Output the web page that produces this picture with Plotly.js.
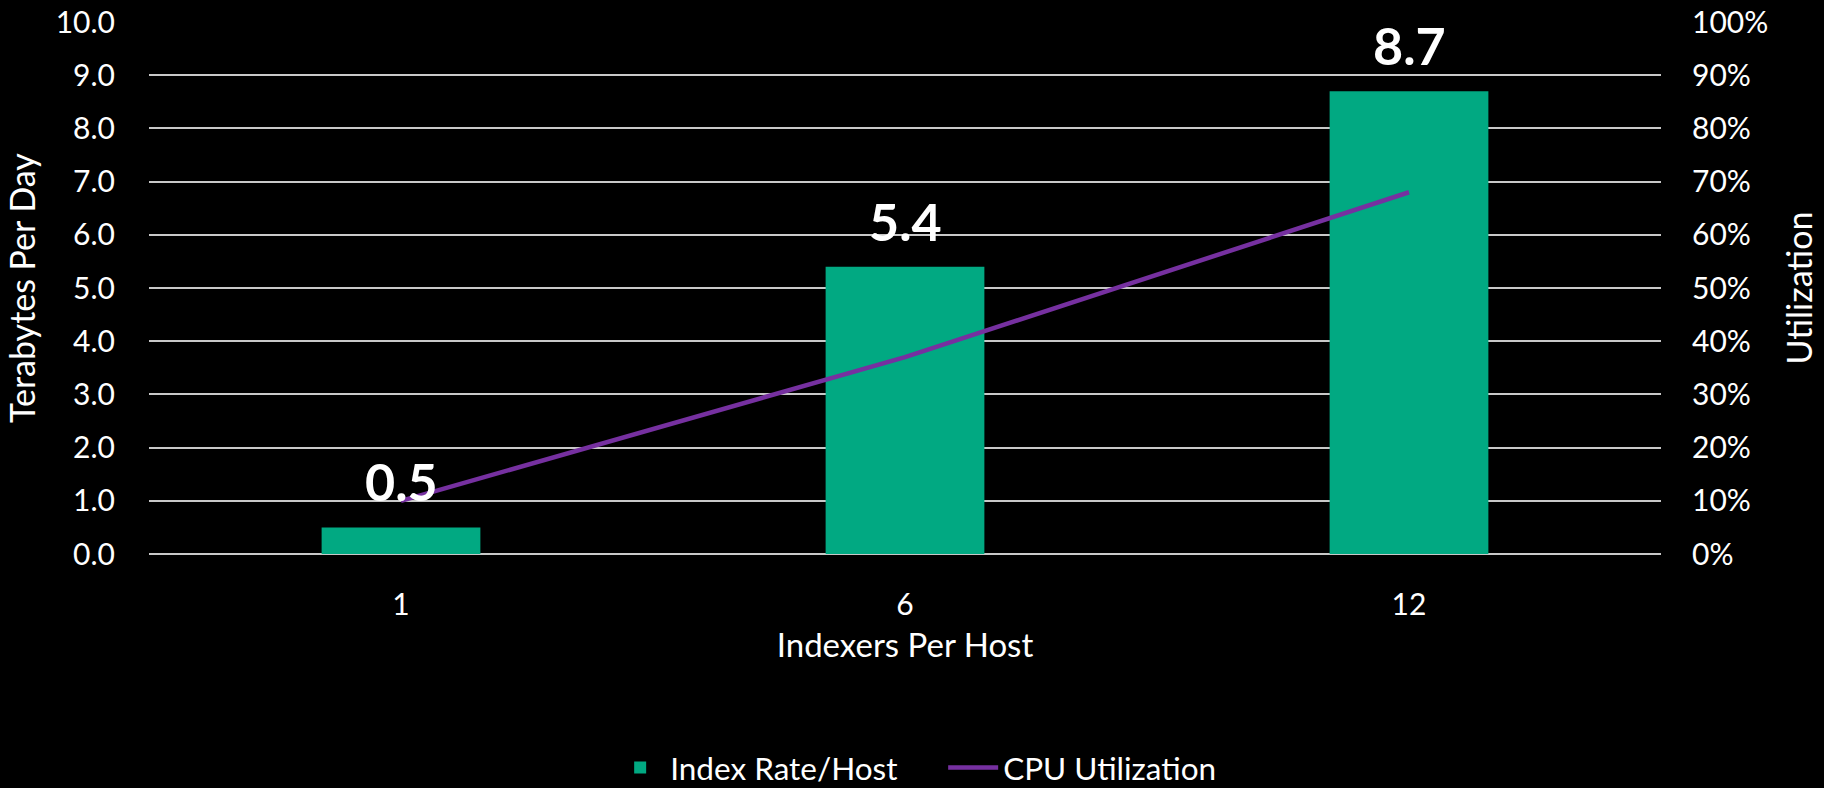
<!DOCTYPE html>
<html>
<head>
<meta charset="utf-8">
<script src="https://cdn.plot.ly/plotly-3.0.1.min.js"></script>
<style>
html,body{margin:0;padding:0;background:#000;}
#chart{width:1824px;height:788px;}
</style>
</head>
<body>
<div id="chart"></div>
<script>
const categories = ['1', '6', '12'];
const indexRate = [0.5, 5.4, 8.7];
const cpuUtil = [0.10, 0.37, 0.68];
const barLabels = ['0.5', '5.4', '8.7'];

const FONT = 'Lato, "Open Sans", sans-serif';
const GREEN = '#01a982';
const PURPLE = '#7630a0';
const GRID = '#c8c8c8';

const traces = [
  {
    type: 'bar',
    name: 'Index Rate/Host',
    x: categories,
    y: indexRate,
    marker: {color: GREEN},
    width: 0.315,
    hoverinfo: 'skip'
  },
  {
    type: 'scatter',
    mode: 'lines',
    name: 'CPU Utilization',
    x: categories,
    y: cpuUtil,
    yaxis: 'y2',
    line: {color: PURPLE, width: 4.5},
    hoverinfo: 'skip'
  }
];

const annotations = categories.map((c, i) => ({
  x: i, y: indexRate[i], xref: 'x', yref: 'y',
  text: barLabels[i], showarrow: false,
  yanchor: 'bottom', yshift: 13,
  font: {family: FONT, size: 52, color: '#ffffff', weight: 'bold'}
}));

const layout = {
  width: 1824, height: 788,
  paper_bgcolor: '#000000', plot_bgcolor: '#000000',
  margin: {l: 149, r: 163, t: 21.5, b: 234.3},
  font: {family: FONT, color: '#ffffff', size: 28},
  showlegend: true,
  xaxis: {
    type: 'category',
    range: [-0.5, 2.5],
    showgrid: false, zeroline: false, showline: false,
    ticks: '', ticklabelstandoff: 30,
    tickfont: {size: 30, color: '#ffffff'},
    title: {text: 'Indexers Per Host', font: {size: 33, color: '#ffffff'}, standoff: 13}
  },
  yaxis: {
    range: [0, 10], dtick: 1, tick0: 0, tickformat: '.1f',
    showgrid: true, gridcolor: GRID, gridwidth: 2,
    zeroline: true, zerolinecolor: GRID, zerolinewidth: 2,
    showline: false, ticks: '', ticklabelstandoff: 33,
    tickfont: {size: 30, color: '#ffffff'},
    title: {text: 'Terabytes Per Day', font: {size: 34, color: '#ffffff'}, standoff: 9}
  },
  yaxis2: {
    overlaying: 'y', side: 'right',
    range: [0, 1], dtick: 0.1, tick0: 0, tickformat: '.0%',
    showgrid: false, zeroline: false, showline: false,
    ticks: '', ticklabelstandoff: 30,
    tickfont: {size: 30, color: '#ffffff'},
    title: {text: 'Utilization', font: {size: 34, color: '#ffffff'}, standoff: 20}
  },
  legend: {
    orientation: 'h', x: 0.305, xanchor: 'left',
    yref: 'container', y: 0.026, yanchor: 'middle',
    font: {size: 31.5, color: '#ffffff'}, bgcolor: 'rgba(0,0,0,0)',
    itemwidth: 50, tracegroupgap: 0, entrywidth: 268
  },
  annotations: annotations
};

Plotly.newPlot('chart', traces, layout, {displayModeBar: false, staticPlot: true});
</script>
</body>
</html>
